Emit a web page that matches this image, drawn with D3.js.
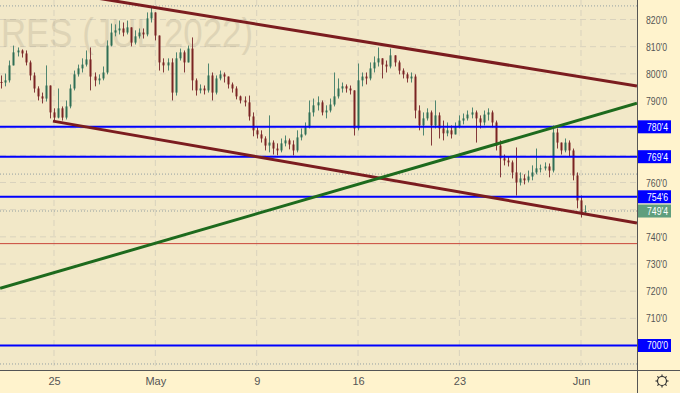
<!DOCTYPE html>
<html>
<head>
<meta charset="utf-8">
<script src="https://cdn.jsdelivr.net/npm/d3@7"></script>
<style>
  body { margin: 0; background: #fff3cd; }
  svg { display: block; font-family: 'Liberation Sans', Arial, sans-serif; }
</style>
</head>
<body>
<script>
// bars every 0.2 trading day, day index 0 = Apr 25
var barStart = -2.6, barStep = 0.2
var firstOpen = 797.0

var closes = [
  796.8, 797.6, 803.1, 807.9, 808.6, 807.5, 804.2, 799.4, 794.6, 791.7,
  790.9, 795.7, 785.8, 783.9, 787.3, 783.9, 788.0, 794.6, 799.8, 802.0,
  803.4, 805.3, 799.0, 797.6, 798.3, 800.5, 810.4, 815.2, 816.0, 816.7,
  815.2, 817.1, 811.5, 813.8, 815.2, 814.5, 820.4, 822.6, 814.1, 804.2,
  803.1, 804.2, 793.1, 805.7, 807.9, 804.2, 809.3, 797.6, 793.9, 794.6,
  793.9, 799.4, 793.1, 798.3, 799.8, 799.0, 796.1, 794.6, 791.7, 790.2,
  789.5, 784.3, 779.2, 777.7, 776.2, 773.6, 774.7, 772.5, 771.8, 774.4,
  775.5, 774.0, 771.8, 776.6, 777.7, 780.3, 785.8, 788.4, 789.5, 785.8,
  786.5, 788.7, 791.7, 794.6, 795.4, 794.6, 793.9, 779.9, 797.6, 799.0,
  798.3, 802.0, 804.2, 805.7, 803.4, 802.7, 806.8, 804.2, 801.2, 799.8,
  798.3, 799.0, 786.5, 781.0, 783.6, 785.8, 781.0, 784.7, 779.9, 778.1,
  779.2, 777.7, 780.6, 782.8, 783.6, 785.0, 785.8, 783.6, 782.1, 785.0,
  785.8, 782.1, 773.6, 768.9, 768.1, 767.4, 763.7, 760.0, 761.5, 760.8,
  762.2, 763.7, 765.2, 765.2, 765.9, 764.4, 778.4, 774.7, 771.8, 774.7,
  771.8, 762.6, 753.4, 749.0, 749.5
]
var highs = [
  799.4, 800.1, 804.9, 810.4, 809.7, 809.0, 808.6, 804.9, 800.5, 795.4,
  793.1, 803.1, 795.7, 787.3, 794.6, 788.0, 790.2, 796.1, 801.2, 803.4,
  805.7, 808.6, 809.7, 800.5, 799.8, 802.7, 812.3, 818.5, 818.2, 819.6,
  818.9, 819.6, 816.7, 816.0, 816.7, 816.7, 822.6, 824.4, 822.6, 808.6,
  805.7, 805.7, 805.7, 807.9, 809.3, 808.6, 810.4, 813.4, 798.3, 796.1,
  795.7, 803.8, 800.5, 799.4, 801.2, 800.5, 799.0, 796.8, 795.4, 792.0,
  791.7, 792.0, 785.8, 780.3, 779.2, 777.0, 784.7, 775.5, 774.4, 776.2,
  777.3, 776.2, 775.5, 779.2, 779.9, 782.1, 790.2, 790.9, 791.7, 790.2,
  788.4, 790.9, 800.5, 798.3, 796.8, 796.1, 795.7, 793.9, 803.8, 800.5,
  800.5, 804.2, 806.4, 809.7, 805.7, 804.9, 809.3, 806.8, 804.9, 802.0,
  800.5, 800.5, 799.8, 788.4, 785.8, 787.3, 786.5, 790.2, 785.8, 782.8,
  782.1, 781.0, 782.1, 784.7, 785.4, 786.5, 787.6, 786.5, 784.7, 786.5,
  787.3, 786.5, 782.8, 775.5, 770.3, 769.6, 768.1, 772.9, 763.7, 763.0,
  764.4, 766.3, 772.5, 766.6, 767.4, 767.0, 781.0, 779.9, 774.0, 776.2,
  775.5, 772.5, 763.7, 755.2, 751.6
]
var lows = [
  794.6, 795.4, 796.8, 804.2, 806.4, 806.0, 803.1, 797.6, 793.1, 790.2,
  789.1, 789.8, 783.6, 782.5, 783.6, 782.8, 783.2, 787.3, 793.9, 799.0,
  800.5, 802.7, 793.9, 795.4, 796.1, 797.6, 799.8, 810.1, 813.8, 814.5,
  813.8, 814.5, 810.1, 810.8, 813.0, 813.0, 813.8, 818.9, 812.3, 801.2,
  800.5, 801.2, 790.2, 792.0, 804.9, 800.5, 804.2, 793.9, 792.0, 792.8,
  792.4, 793.1, 790.2, 792.4, 797.6, 796.8, 794.6, 793.1, 790.6, 789.1,
  788.0, 782.8, 777.0, 776.2, 774.7, 771.8, 771.1, 770.3, 770.0, 771.1,
  773.3, 772.2, 770.0, 771.1, 775.5, 777.3, 779.9, 784.3, 786.5, 784.7,
  783.6, 785.8, 788.0, 790.9, 793.1, 793.1, 792.4, 777.3, 779.2, 795.4,
  796.1, 797.6, 800.5, 802.7, 798.3, 800.5, 802.0, 802.7, 799.8, 798.3,
  796.8, 796.8, 783.6, 779.2, 777.3, 782.8, 773.6, 779.9, 776.2, 775.5,
  777.0, 776.2, 777.7, 779.9, 781.4, 782.8, 783.6, 774.7, 779.9, 781.0,
  782.8, 780.3, 771.8, 761.9, 766.3, 765.9, 761.5, 755.2, 758.9, 759.3,
  760.0, 760.8, 763.0, 763.7, 764.4, 761.9, 763.7, 772.5, 770.3, 771.1,
  769.6, 760.8, 750.5, 747.1, 748.2
]

var dayTicks = [0, 5, 10, 15, 20, 26]
var dayLabels = ['25', 'May', '9', '16', '23', 'Jun']
var priceTicks = d3.range(700, 821, 10)

var levels = [780.5, 769.5, 754.75, 700]
var lastPrice = 749.5
var redLevel = 737.5
var dottedLevels = [825.0, 763.1, 749.5, 693.2]

var trendUpper = [[-2.66, 833.7], [28.76, 795.5]]
var trendLower = [[-0.05, 782.6], [28.76, 745.1]]
var trendGreen = [[-2.66, 721.05], [28.76, 789.15]]

var title = 'RES (JUL 2022)'

var W = 680, H = 393, pw = 637, ph = 370

function fmt(v){ var w = Math.floor(v); return w + "'" + Math.round((v - w) * 8) }

var bars = closes.map(function(c, i){
  return {t: barStart + i * barStep, o: i ? closes[i - 1] : firstOpen, c: c, h: highs[i], l: lows[i]}
})

var x = d3.scaleLinear().domain([0, 26]).range([54, 581])
var y = d3.scaleLinear().domain([700, 820]).range([345.5, 19.5])

var svg = d3.select('body').append('svg').attr('width', W).attr('height', H)

svg.append('rect').attr('width', W).attr('height', H).style('fill', '#fff3cd')
svg.append('rect').attr('width', pw).attr('height', ph).style('fill', '#f2e8c8')

svg.append('clipPath').attr('id', 'clip').append('rect').attr('width', pw).attr('height', ph)
var plot = svg.append('g').attr('clip-path', 'url(#clip)')

// grid
plot.append('g').selectAll('line').data(priceTicks).join('line')
    .attr('x1', 0).attr('x2', pw)
    .attr('y1', function(d){ return y(d) }).attr('y2', function(d){ return y(d) })
    .style('stroke', '#d9d2bd').style('stroke-dasharray', '6,4')
plot.append('g').selectAll('line').data(dayTicks).join('line')
    .attr('x1', function(d){ return x(d) }).attr('x2', function(d){ return x(d) })
    .attr('y1', 0).attr('y2', ph)
    .style('stroke', '#d9d2bd').style('stroke-dasharray', '6,4')

// watermark
plot.append('text').attr('x', 1).attr('y', 47)
    .attr('textLength', 252).attr('lengthAdjust', 'spacingAndGlyphs')
    .style('font-size', '40px').style('fill', '#7a715c').style('opacity', 0.16)
    .text(title)

// dotted price lines
plot.append('g').selectAll('line').data(dottedLevels).join('line')
    .attr('x1', 0).attr('x2', pw)
    .attr('y1', function(d){ return y(d) }).attr('y2', function(d){ return y(d) })
    .style('stroke', '#93a0a3').style('stroke-dasharray', '1,2')

plot.append('line').attr('x1', 0).attr('x2', pw).attr('y1', y(redLevel)).attr('y2', y(redLevel))
    .style('stroke', '#c8463a').style('stroke-width', 1)

// candles
var candles = plot.append('g').selectAll('g').data(bars).join('g')
candles.append('line')
    .attr('x1', function(d){ return Math.round(x(d.t)) + 0.5 }).attr('x2', function(d){ return Math.round(x(d.t)) + 0.5 })
    .attr('y1', function(d){ return y(Math.max(d.h, d.o, d.c)) })
    .attr('y2', function(d){ return y(Math.min(d.l, d.o, d.c)) })
    .style('stroke', function(d){ return d.c >= d.o ? '#4f8670' : '#84393a' })
candles.append('rect')
    .attr('x', function(d){ return Math.round(x(d.t)) - 0.5 })
    .attr('width', 2)
    .attr('y', function(d){ return y(Math.max(d.o, d.c)) })
    .attr('height', function(d){ return Math.max(1, Math.abs(y(d.o) - y(d.c))) })
    .style('fill', function(d){ return d.c >= d.o ? '#2f6e55' : '#7a2323' })

// horizontal levels
plot.append('g').selectAll('line').data(levels).join('line')
    .attr('x1', 0).attr('x2', pw)
    .attr('y1', function(d){ return y(d) }).attr('y2', function(d){ return y(d) })
    .style('stroke', '#0000ff').style('stroke-width', 2)

// trend lines
var line = d3.line().x(function(d){ return x(d[0]) }).y(function(d){ return y(d[1]) })
plot.append('g').selectAll('path').data([trendUpper, trendLower]).join('path')
    .attr('d', line)
    .style('stroke', '#7b1c1f').style('stroke-width', 3).style('fill', 'none')
plot.append('path').datum(trendGreen).attr('d', line)
    .style('stroke', '#1d6a1d').style('stroke-width', 3).style('fill', 'none')

// axes borders
svg.append('line').attr('x1', pw + 0.5).attr('x2', pw + 0.5).attr('y1', 0).attr('y2', H)
    .style('stroke', '#555')
svg.append('line').attr('x1', 0).attr('x2', W).attr('y1', ph + 0.5).attr('y2', ph + 0.5)
    .style('stroke', '#555')

// price axis
var labelled = levels.concat([lastPrice])
var shownTicks = priceTicks.filter(function(d){
  return labelled.every(function(l){ return Math.abs(y(l) - y(d)) > 10 })
})
var yAxis = d3.axisRight(y).tickValues(shownTicks).tickFormat(fmt).tickSize(0).tickPadding(9)
var ya = svg.append('g').attr('transform', 'translate(' + pw + ',0)').call(yAxis)
ya.select('.domain').remove()
ya.selectAll('text').attr('textLength', 21).attr('lengthAdjust', 'spacingAndGlyphs')
    .style('font-size', '11px').style('fill', '#555').style('font-family', null)

var tags = svg.append('g').selectAll('g')
    .data(levels.map(function(d){ return {v: d, c: '#0000ff'} }).concat([{v: lastPrice, c: '#5f9e7d'}]))
    .join('g').attr('transform', function(d){ return 'translate(' + (pw + 1) + ',' + y(d.v) + ')' })
tags.append('rect').attr('x', 0).attr('y', -6.5).attr('width', 33).attr('height', 13)
    .style('fill', function(d){ return d.c })
tags.append('text').attr('x', 9).attr('dy', '0.35em').text(function(d){ return fmt(d.v) })
    .attr('textLength', 21).attr('lengthAdjust', 'spacingAndGlyphs')
    .style('font-size', '11px').style('fill', '#fff')

// time axis
var xAxis = d3.axisBottom(x).tickValues(dayTicks)
    .tickFormat(function(d, i){ return dayLabels[i] }).tickSize(0).tickPadding(7)
var xa = svg.append('g').attr('transform', 'translate(0,' + ph + ')').call(xAxis)
xa.select('.domain').remove()
xa.selectAll('text').style('font-size', '11px').style('fill', '#555').style('font-family', null)

// settings gear
var gear = svg.append('g').attr('transform', 'translate(662,381)')
gear.append('circle').attr('r', 4.5).style('fill', 'none').style('stroke', '#333').style('stroke-width', 1.2)
gear.selectAll('line').data(d3.range(8)).join('line')
    .attr('x1', function(d){ return 4.5 * Math.cos(d * Math.PI / 4) })
    .attr('y1', function(d){ return 4.5 * Math.sin(d * Math.PI / 4) })
    .attr('x2', function(d){ return 6.5 * Math.cos(d * Math.PI / 4) })
    .attr('y2', function(d){ return 6.5 * Math.sin(d * Math.PI / 4) })
    .style('stroke', '#333').style('stroke-width', 1.2)
</script>
</body>
</html>
